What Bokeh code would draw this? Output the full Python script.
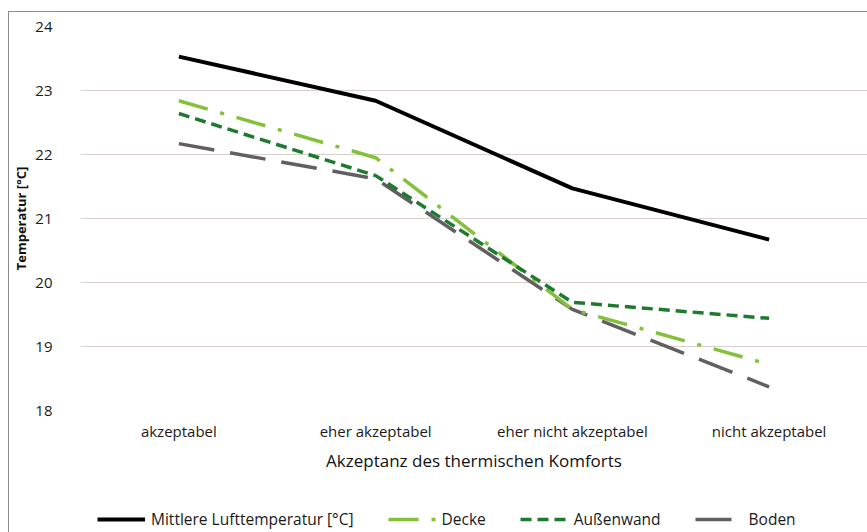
from bokeh.plotting import figure
from bokeh.layouts import column
from bokeh.models import FactorRange, Range1d, Legend, LegendItem, FixedTicker
from bokeh.embed import file_html
from bokeh.resources import INLINE

categories = ["akzeptabel", "eher akzeptabel", "eher nicht akzeptabel", "nicht akzeptabel"]
mittlere = [23.53, 22.84, 21.47, 20.67]
decke = [22.84, 21.95, 19.58, 18.72]
aussenwand = [22.64, 21.67, 19.69, 19.44]
boden = [22.17, 21.62, 19.58, 18.37]
y_ticks = [18, 19, 20, 21, 22, 23, 24]
series_labels = ["Mittlere Lufttemperatur [°C]", "Decke", "Außenwand", "Boden"]

FONT = "Open Sans"
STYLES = {
    "Mittlere Lufttemperatur [°C]": dict(line_color="#000000", line_width=4),
    "Decke": dict(line_color="#84c13a", line_width=3.5, line_dash="30 13 4 13"),
    "Außenwand": dict(line_color="#1d7a2e", line_width=3.5, line_dash="11 6"),
    "Boden": dict(line_color="#606060", line_width=3.5, line_dash="36 16"),
}
values = {"Mittlere Lufttemperatur [°C]": mittlere, "Decke": decke,
          "Außenwand": aussenwand, "Boden": boden}

p = figure(x_range=FactorRange(*categories, range_padding=0), y_range=Range1d(18, 24),
           width=858, height=490, output_backend="svg", toolbar_location=None,
           min_border_left=69, min_border_right=0, min_border_top=14, min_border_bottom=92)
p.outline_line_color = None
p.background_fill_color = "white"

p.xgrid.grid_line_color = None
p.ygrid.grid_line_color = "#d8d0cc"
p.ygrid.grid_line_width = 1.2
p.yaxis.ticker = FixedTicker(ticks=y_ticks)

for ax in (p.xaxis[0], p.yaxis[0]):
    ax.axis_line_color = None
    ax.major_tick_line_color = None
    ax.minor_tick_line_color = None
    ax.major_tick_out = 0
    ax.major_tick_in = 0
    ax.minor_tick_out = 0
    ax.major_label_text_font = FONT
    ax.major_label_text_font_size = "15px"
    ax.major_label_text_color = "#1a1a1a"
    ax.axis_label_text_font = FONT
    ax.axis_label_text_color = "#111111"
    ax.axis_label_text_font_style = "normal"

p.yaxis.major_label_standoff = 28
p.xaxis.major_label_standoff = 10
p.xaxis.axis_label = "Akzeptanz des thermischen Komforts"
p.xaxis.axis_label_text_font_size = "17px"
p.xaxis.axis_label_standoff = 5
p.yaxis.axis_label = "Temperatur [°C]"
p.yaxis.axis_label_text_font_size = "13px"
p.yaxis.axis_label_text_font_style = "bold"
p.yaxis.axis_label_standoff = 2

for name in ["Boden", "Decke", "Außenwand", "Mittlere Lufttemperatur [°C]"]:
    p.line(categories, values[name], **STYLES[name])

# legend strip below the chart (series drawn outside its visible y range)
p2 = figure(x_range=p.x_range, y_range=Range1d(0, 1), width=858, height=30,
            output_backend="svg", toolbar_location=None,
            x_axis_type=None, y_axis_type=None,
            min_border_left=0, min_border_right=0, min_border_top=0, min_border_bottom=0)
p2.outline_line_color = None
p2.xgrid.grid_line_color = None
p2.ygrid.grid_line_color = None
items = []
for name in series_labels:
    r = p2.line(categories, values[name], **STYLES[name])
    items.append(LegendItem(label=name, renderers=[r]))

legend = Legend(items=items, orientation="horizontal", location=(17, 2))
legend.label_text_font = FONT
legend.label_text_font_size = "15.5px"
legend.label_text_color = "#1a1a1a"
legend.glyph_width = 48
legend.label_standoff = 6
legend.spacing = 34
legend.padding = 0
legend.margin = 0
legend.border_line_alpha = 0
legend.background_fill_alpha = 0
p2.add_layout(legend, "center")

layout = column(p, p2, spacing=0)
layout.styles = {"border-top": "1px solid #8c8c8c", "border-left": "1px solid #8c8c8c",
                 "margin-top": "11px", "margin-left": "8px", "background": "white"}

open("out.html", "w").write(file_html(layout, INLINE))
